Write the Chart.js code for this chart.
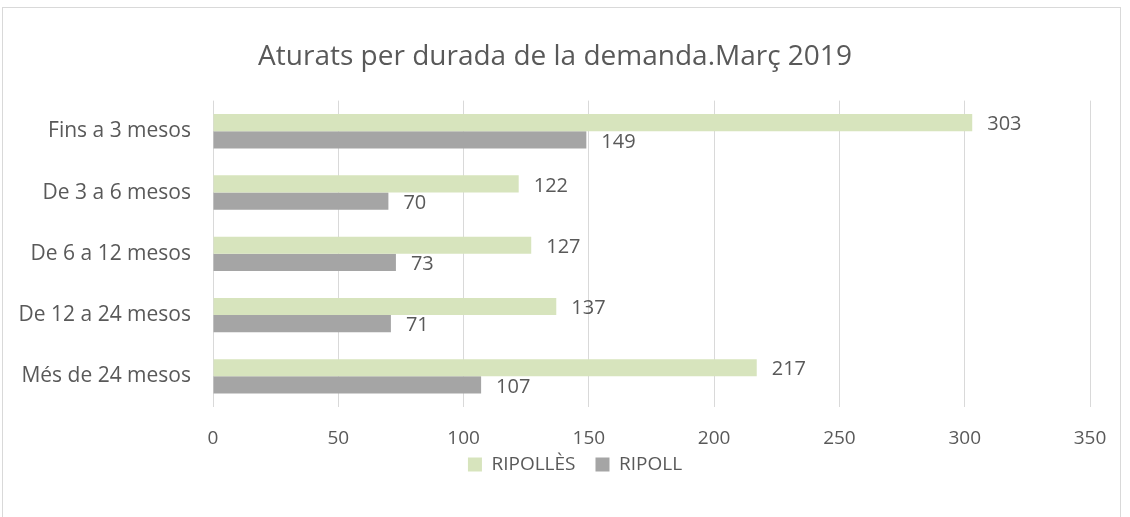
<!DOCTYPE html>
<html>
<head>
<meta charset="utf-8">
<script src="https://cdn.jsdelivr.net/npm/chart.js@4"></script>
<style>
  body { margin: 0; background: #fff; }
  #marc { position: absolute; left: 2px; top: 7px; width: 1119px; height: 520px; border: 1px solid #d9d9d9; box-sizing: border-box; }
  #grafic { position: absolute; left: 0; top: 0; }
</style>
</head>
<body>
<div id="marc"></div>
<canvas id="grafic" width="1130" height="517"></canvas>
<script>
// Dades del gràfic
const categories = ['Fins a 3 mesos', 'De 3 a 6 mesos', 'De 6 a 12 mesos', 'De 12 a 24 mesos', 'Més de 24 mesos'];
const ripolles = [303, 122, 127, 137, 217];
const ripoll = [149, 70, 73, 71, 107];
const ticksX = [0, 50, 100, 150, 200, 250, 300, 350];

const colorText = '#595959';
const familia = '"Open Sans", "Liberation Sans", sans-serif';

// Etiquetes de valor al final de cada barra
const etiquetes = {
    id: 'etiquetes',
    afterDatasetsDraw(chart) {
        const ctx = chart.ctx;
        ctx.save();
        ctx.fillStyle = colorText;
        ctx.font = '20px ' + familia;
        ctx.textAlign = 'left';
        ctx.textBaseline = 'middle';
        chart.data.datasets.forEach((ds, i) => {
            chart.getDatasetMeta(i).data.forEach((bar, j) => {
                ctx.fillText(ds.data[j], bar.x + 15, bar.y + 2);
            });
        });
        ctx.restore();
    }
};

// Acostar la llegenda a l'eix i centrar-la com a l'original
const llegenda = {
    id: 'llegenda',
    afterLayout(chart) {
        const l = chart.legend;
        l.top -= 35; l.bottom -= 35;
        l.left += 20; l.right += 20;
    }
};

new Chart(document.getElementById('grafic'), {
    type: 'bar',
    data: {
        labels: categories,
        datasets: [
            { label: 'RIPOLLÈS', data: ripolles, backgroundColor: '#d7e4bd' },
            { label: 'RIPOLL', data: ripoll, backgroundColor: '#a5a5a5' }
        ]
    },
    options: {
        indexAxis: 'y',
        responsive: false,
        animation: false,
        categoryPercentage: 0.56,
        barPercentage: 1,
        layout: { padding: { left: 20, right: 40, top: 0, bottom: -2 } },
        scales: {
            x: {
                min: ticksX[0],
                max: ticksX[ticksX.length - 1],
                grid: { color: '#d9d9d9', drawTicks: false },
                border: { display: false },
                ticks: {
                    stepSize: ticksX[1] - ticksX[0],
                    maxRotation: 0,
                    color: colorText,
                    font: { family: familia, size: 19, lineHeight: 1 },
                    padding: 22
                }
            },
            y: {
                grid: { display: false },
                border: { display: false },
                ticks: { color: colorText, font: { family: familia, size: 21 }, padding: 14 },
                afterFit: (scale) => { scale.width = 193; }
            }
        },
        plugins: {
            title: {
                display: true,
                text: 'Aturats per durada de la demanda.Març 2019',
                color: colorText,
                font: { family: familia, size: 28, weight: 'normal' },
                padding: { top: 40, bottom: 27 }
            },
            legend: {
                position: 'bottom',
                labels: {
                    color: colorText,
                    font: { family: familia, size: 19 },
                    boxWidth: 14,
                    boxHeight: 14,
                    padding: 20
                }
            },
            tooltip: { enabled: false }
        }
    },
    plugins: [etiquetes, llegenda]
});
</script>
</body>
</html>
